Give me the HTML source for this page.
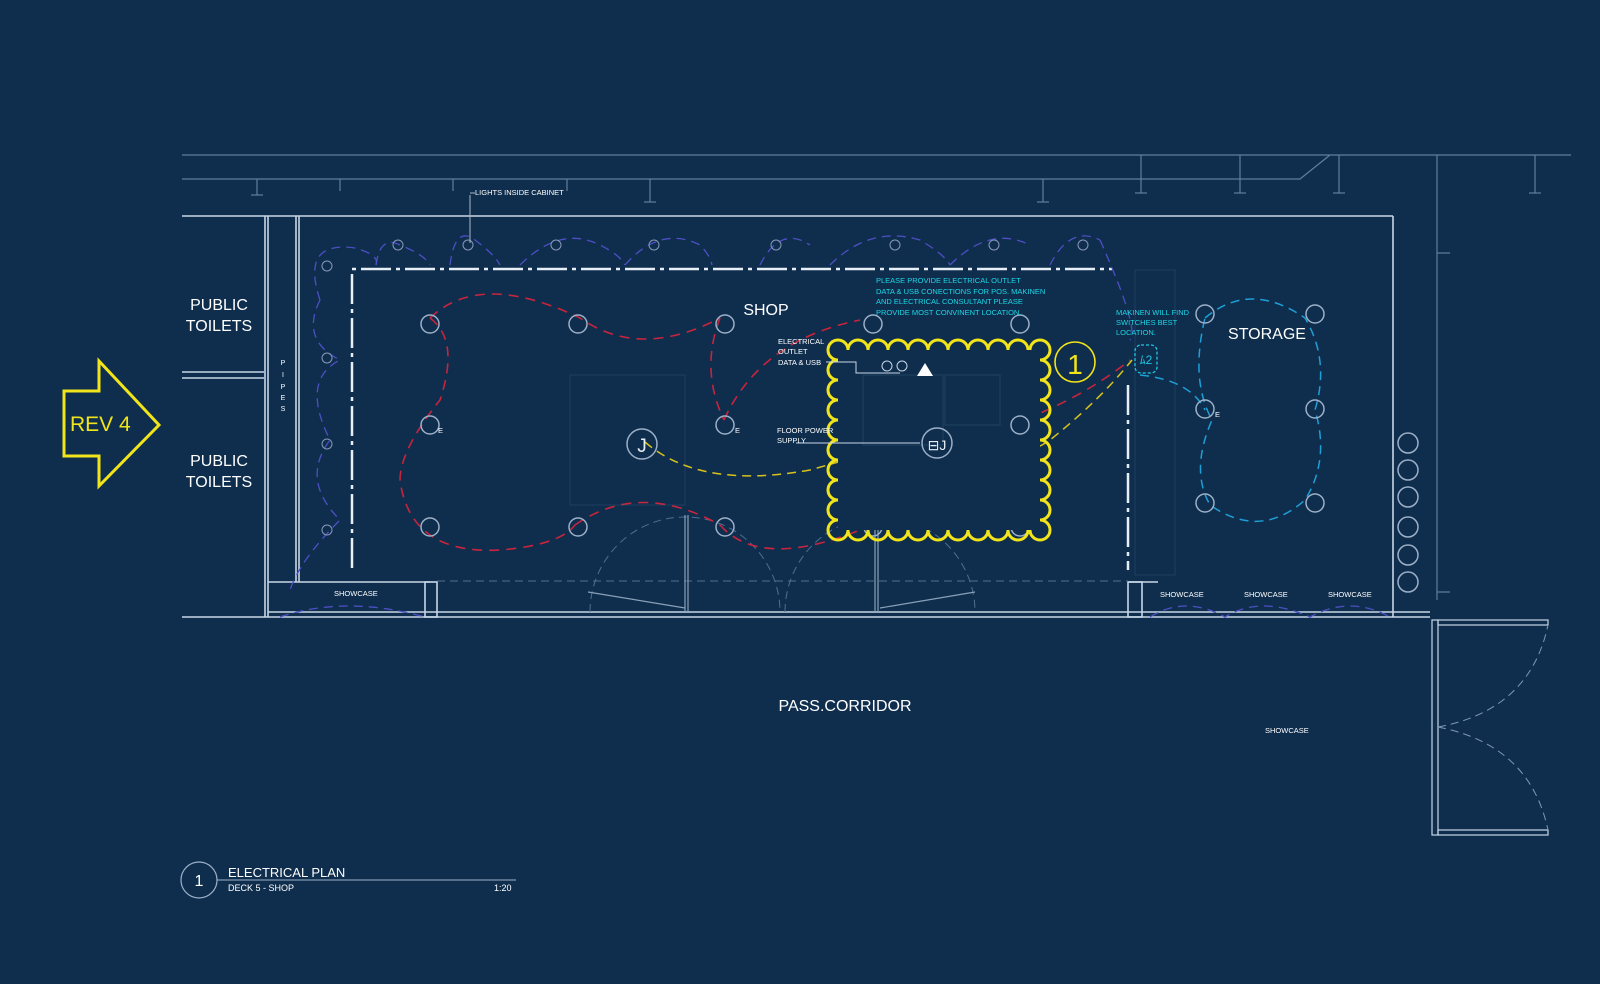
<!DOCTYPE html>
<html><head><meta charset="utf-8"><style>
html,body{margin:0;padding:0;background:#0f2e4d;}
svg{display:block}
text{font-family:"Liberation Sans",Arial,sans-serif;}
</style></head><body>
<svg width="1600" height="984" viewBox="0 0 1600 984" xmlns="http://www.w3.org/2000/svg">
<rect width="1600" height="984" fill="#0f2e4d"/>
<g stroke="#5f7f9f" stroke-width="1.2" fill="none">
<line x1="182" y1="155" x2="1571" y2="155"/>
<polyline points="182,179 1300,179 1330,155"/>
<line x1="1437" y1="155" x2="1437" y2="600"/>
<line x1="1437" y1="253" x2="1450" y2="253"/>
<line x1="1437" y1="592" x2="1450" y2="592"/>
<g>
<line x1="257" y1="179" x2="257" y2="195"/><line x1="251" y1="195" x2="263" y2="195"/>
<line x1="340" y1="179" x2="340" y2="191"/>
<line x1="453" y1="179" x2="453" y2="191"/>
<line x1="567" y1="179" x2="567" y2="191"/>
<line x1="650" y1="179" x2="650" y2="202"/><line x1="644" y1="202" x2="656" y2="202"/>
<line x1="1043" y1="179" x2="1043" y2="202"/><line x1="1037" y1="202" x2="1049" y2="202"/>
<line x1="1141" y1="155" x2="1141" y2="193"/><line x1="1135" y1="193" x2="1147" y2="193"/>
<line x1="1240" y1="155" x2="1240" y2="193"/><line x1="1234" y1="193" x2="1246" y2="193"/>
<line x1="1339" y1="155" x2="1339" y2="193"/><line x1="1333" y1="193" x2="1345" y2="193"/>
<line x1="1535" y1="155" x2="1535" y2="193"/><line x1="1529" y1="193" x2="1541" y2="193"/>
</g>
</g>
<g stroke="#c8d6e6" stroke-width="1.6" fill="none">
<line x1="182" y1="216" x2="1393" y2="216"/>
<line x1="1393" y1="216" x2="1393" y2="617"/>
<line x1="182" y1="617" x2="1430" y2="617"/>
<line x1="265" y1="216" x2="265" y2="617"/>
<line x1="268" y1="216" x2="268" y2="617"/>
<line x1="296" y1="216" x2="296" y2="582"/>
<line x1="299" y1="216" x2="299" y2="582"/>
<line x1="182" y1="372" x2="264" y2="372"/>
<line x1="182" y1="378" x2="264" y2="378"/>
<line x1="268" y1="582" x2="430" y2="582"/>
<line x1="268" y1="612" x2="1430" y2="612"/>
<rect x="425" y="582" width="12" height="35"/>
<rect x="1128" y="582" width="14" height="35"/>
<line x1="1128" y1="582" x2="1158" y2="582"/>
</g>
<g stroke="#4f6f92" stroke-width="1" fill="none" stroke-dasharray="8 5">
<line x1="437" y1="581" x2="1128" y2="581"/>
<path d="M590 612 A95 95 0 0 1 780 612"/>
<path d="M785 612 A95 95 0 0 1 975 612"/>
</g>
<g stroke="#8aa0b8" stroke-width="1.2" fill="none">
<line x1="588" y1="592" x2="685" y2="608"/>
<line x1="880" y1="608" x2="975" y2="592"/>
<line x1="685" y1="515" x2="685" y2="612"/>
<line x1="688" y1="515" x2="688" y2="612"/>
<line x1="875" y1="515" x2="875" y2="612"/>
<line x1="878" y1="515" x2="878" y2="612"/>
</g>
<g stroke="#e8eef5" stroke-width="2.5" fill="none" stroke-dasharray="30 5 4 5">
<polyline points="352,568 352,269 1112,269"/>
<line x1="1128" y1="385" x2="1128" y2="570"/>
</g>
<g stroke="#c8d6e6" stroke-width="1.2" fill="none">
<rect x="1432" y="620" width="6" height="215"/>
<rect x="1438" y="620" width="110" height="5"/>
<rect x="1438" y="830" width="110" height="5"/>
</g>
<g stroke="#7f98b5" stroke-width="1" fill="none" stroke-dasharray="8 5">
<path d="M1438 727 Q1530 710 1548 625"/>
<path d="M1438 727 Q1530 745 1548 830"/>
</g>
<g stroke="#4d4fc4" stroke-width="1.3" fill="none" stroke-dasharray="9 6">
<path d="M320 300 Q300 240 355 248 Q380 255 376 265"/>
<path d="M376 265 Q380 235 400 245 Q425 255 430 265"/>
<path d="M450 265 Q455 225 475 240 Q495 255 500 265"/>
<path d="M520 265 Q560 225 600 245 Q620 255 625 265"/>
<path d="M625 265 Q660 225 700 245 Q710 255 712 265"/>
<path d="M760 265 Q780 225 810 245"/>
<path d="M830 265 Q870 225 920 240 Q945 255 950 265"/>
<path d="M950 265 Q990 225 1030 245"/>
<path d="M1050 265 Q1070 225 1100 240"/>
<path d="M320 300 Q300 340 340 360 Q300 380 330 440 Q300 480 340 520 Q300 560 290 590"/>
<path d="M1100 240 Q1140 330 1130 340"/>
<path d="M280 617 Q345 595 425 617"/>
<path d="M1150 617 Q1185 595 1225 617 Q1260 595 1310 617 Q1350 595 1390 617"/>
</g>
<g stroke="#8898b8" stroke-width="1" fill="none">
<circle cx="327" cy="266" r="5"/><circle cx="398" cy="245" r="5"/><circle cx="468" cy="245" r="5"/>
<circle cx="556" cy="245" r="5"/><circle cx="654" cy="245" r="5"/><circle cx="776" cy="245" r="5"/>
<circle cx="895" cy="245" r="5"/><circle cx="994" cy="245" r="5"/><circle cx="1083" cy="245" r="5"/>
<circle cx="327" cy="358" r="5"/><circle cx="327" cy="444" r="5"/><circle cx="327" cy="530" r="5"/>
</g>
<line x1="470" y1="195" x2="470" y2="243" stroke="#aab8c8" stroke-width="1"/>
<line x1="470" y1="193" x2="475" y2="193" stroke="#aab8c8" stroke-width="1"/>
<g stroke="#c8243e" stroke-width="1.6" fill="none" stroke-dasharray="10 7">
<path d="M430 318 Q480 270 580 318 Q640 360 720 318"/>
<path d="M430 318 Q460 340 440 400 Q400 450 400 480 Q410 555 500 550 Q560 545 575 525"/>
<path d="M575 525 Q640 480 720 525"/>
<path d="M720 318 Q700 370 724 420"/>
<path d="M720 525 Q760 570 860 530 Q900 470 1000 515"/>
<path d="M724 420 Q760 340 860 320"/>
<path d="M1010 425 Q1080 400 1130 360"/>
<path d="M1010 425 Q1060 470 1010 515"/>
</g>
<g stroke="#d8c21a" stroke-width="1.5" fill="none" stroke-dasharray="9 6">
<path d="M645 442 Q700 490 810 470 Q880 450 925 440"/>
<path d="M925 440 Q990 480 1050 440 Q1100 400 1132 360"/>
</g>
<g stroke="#1e9fd6" stroke-width="1.5" fill="none" stroke-dasharray="9 6">
<path d="M1205 318 Q1250 280 1305 318 Q1330 360 1315 410 Q1330 460 1305 500 Q1260 540 1210 505 Q1190 470 1212 420 Q1190 380 1205 318"/>
<path d="M1140 375 Q1190 380 1205 410"/>
</g>
<g stroke="#4f6f92" stroke-width="1" fill="none" opacity="0.25">
<rect x="570" y="375" width="115" height="130"/>
<rect x="1135" y="270" width="40" height="305"/>
</g>
<g stroke="#9cb0c8" stroke-width="1.5" fill="none">
<circle cx="430" cy="324" r="9"/><circle cx="578" cy="324" r="9"/><circle cx="725" cy="324" r="9"/><circle cx="873" cy="324" r="9"/><circle cx="1020" cy="324" r="9"/>
<circle cx="430" cy="425" r="9"/><circle cx="725" cy="425" r="9"/><circle cx="1020" cy="425" r="9"/>
<circle cx="430" cy="527" r="9"/><circle cx="578" cy="527" r="9"/><circle cx="725" cy="527" r="9"/><circle cx="873" cy="527" r="9"/><circle cx="1020" cy="527" r="9"/>
<circle cx="1205" cy="314" r="9"/><circle cx="1315" cy="314" r="9"/>
<circle cx="1205" cy="409" r="9"/><circle cx="1315" cy="409" r="9"/>
<circle cx="1205" cy="503" r="9"/><circle cx="1315" cy="503" r="9"/>
<circle cx="1408" cy="443" r="10"/><circle cx="1408" cy="470" r="10"/><circle cx="1408" cy="497" r="10"/>
<circle cx="1408" cy="527" r="10"/><circle cx="1408" cy="555" r="10"/><circle cx="1408" cy="582" r="10"/>
</g>
<g stroke="#f2e41a" stroke-width="3" fill="none">
<circle cx="838" cy="350" r="10"/><circle cx="858" cy="350" r="10"/><circle cx="878" cy="350" r="10"/><circle cx="898" cy="350" r="10"/><circle cx="918" cy="350" r="10"/><circle cx="938" cy="350" r="10"/><circle cx="958" cy="350" r="10"/><circle cx="978" cy="350" r="10"/><circle cx="998" cy="350" r="10"/><circle cx="1018" cy="350" r="10"/><circle cx="1040" cy="350" r="10"/>
<circle cx="838" cy="530" r="10"/><circle cx="858" cy="530" r="10"/><circle cx="878" cy="530" r="10"/><circle cx="898" cy="530" r="10"/><circle cx="918" cy="530" r="10"/><circle cx="938" cy="530" r="10"/><circle cx="958" cy="530" r="10"/><circle cx="978" cy="530" r="10"/><circle cx="998" cy="530" r="10"/><circle cx="1018" cy="530" r="10"/><circle cx="1040" cy="530" r="10"/>
<circle cx="838" cy="370" r="10"/><circle cx="838" cy="390" r="10"/><circle cx="838" cy="410" r="10"/><circle cx="838" cy="430" r="10"/><circle cx="838" cy="450" r="10"/><circle cx="838" cy="470" r="10"/><circle cx="838" cy="490" r="10"/><circle cx="838" cy="510" r="10"/>
<circle cx="1040" cy="370" r="10"/><circle cx="1040" cy="390" r="10"/><circle cx="1040" cy="410" r="10"/><circle cx="1040" cy="430" r="10"/><circle cx="1040" cy="450" r="10"/><circle cx="1040" cy="470" r="10"/><circle cx="1040" cy="490" r="10"/><circle cx="1040" cy="510" r="10"/>
</g>
<rect x="838" y="350" width="202" height="180" fill="#0f2e4d"/>
<g stroke="#3f5f82" stroke-width="1" fill="none" opacity="0.4">
<rect x="863" y="375" width="80" height="70"/><rect x="945" y="375" width="55" height="50"/>
</g>
<g stroke="#9cb0c8" stroke-width="1.5" fill="none">
<circle cx="1020" cy="425" r="9"/>
</g>
<circle cx="1075" cy="362" r="20" stroke="#f2e41a" stroke-width="1.6" fill="none"/>
<text x="1075" y="374" font-size="28" fill="#f2e41a" text-anchor="middle">1</text>
<circle cx="642" cy="444" r="15" stroke="#9cb0c8" stroke-width="1.5" fill="none"/>
<text x="642" y="452" font-size="19" fill="#e8eef5" text-anchor="middle">J</text>
<circle cx="937" cy="443" r="15" stroke="#9cb0c8" stroke-width="1.5" fill="none"/>
<text x="937" y="450" font-size="14" fill="#e8eef5" text-anchor="middle">⊟J</text>
<g stroke="#c8d6e6" stroke-width="1" fill="none">
<polyline points="826,362 856,362 856,373 900,373"/>
<circle cx="887" cy="366" r="5"/><circle cx="902" cy="366" r="5"/>
<line x1="796" y1="443" x2="920" y2="443"/>
</g>
<polygon points="917,376 933,376 925,363" fill="#ffffff"/>
<rect x="1135" y="345" width="22" height="28" rx="6" stroke="#1ec8e6" stroke-width="1.3" fill="none" stroke-dasharray="3 2"/>
<text x="1146" y="364" font-size="12" fill="#1ec8e6" text-anchor="middle">ﾑ2</text>
<polygon points="64,391 99,391 99,361 159,425 99,486 99,456 64,456" fill="none" stroke="#f2e41a" stroke-width="3"/>
<text x="70" y="431" font-size="21" fill="#f2e41a">REV 4</text>
<g fill="#ffffff">
<text x="219" y="310" font-size="16" text-anchor="middle">PUBLIC</text>
<text x="219" y="331" font-size="16" text-anchor="middle">TOILETS</text>
<text x="219" y="466" font-size="16" text-anchor="middle">PUBLIC</text>
<text x="219" y="487" font-size="16" text-anchor="middle">TOILETS</text>
<text x="766" y="315" font-size="16" text-anchor="middle">SHOP</text>
<text x="1267" y="339" font-size="16" text-anchor="middle">STORAGE</text>
<text x="845" y="711" font-size="16" text-anchor="middle">PASS.CORRIDOR</text>
<g font-size="7.5">
<text x="475" y="195">LIGHTS INSIDE CABINET</text>
<text x="334" y="596">SHOWCASE</text>
<text x="1160" y="597">SHOWCASE</text>
<text x="1244" y="597">SHOWCASE</text>
<text x="1328" y="597">SHOWCASE</text>
<text x="1265" y="733">SHOWCASE</text>
<text x="778" y="344">ELECTRICAL</text>
<text x="778" y="354">OUTLET</text>
<text x="778" y="365">DATA &amp; USB</text>
<text x="777" y="433">FLOOR POWER</text>
<text x="777" y="443">SUPPLY</text>
<text x="438" y="433">E</text><text x="735" y="433">E</text><text x="1215" y="417">E</text>
</g>
<g font-size="7" text-anchor="middle">
<text x="283" y="365">P</text><text x="283" y="377">I</text><text x="283" y="389">P</text><text x="283" y="400">E</text><text x="283" y="411">S</text>
</g>
</g>
<g fill="#1ed6e6" font-size="7.5">
<text x="876" y="283">PLEASE PROVIDE ELECTRICAL  OUTLET</text>
<text x="876" y="294">DATA &amp; USB CONECTIONS FOR POS. MAKINEN</text>
<text x="876" y="304">AND ELECTRICAL CONSULTANT PLEASE</text>
<text x="876" y="315">PROVIDE MOST CONVINENT LOCATION.</text>
<text x="1116" y="315">MAKINEN WILL FIND</text>
<text x="1116" y="325">SWITCHES BEST</text>
<text x="1116" y="335">LOCATION.</text>
</g>
<circle cx="199" cy="880" r="18" stroke="#9cb0c8" stroke-width="1.2" fill="none"/>
<text x="199" y="886" font-size="16" fill="#ffffff" text-anchor="middle">1</text>
<line x1="217" y1="880" x2="516" y2="880" stroke="#9cb0c8" stroke-width="1"/>
<text x="228" y="877" font-size="13" fill="#ffffff">ELECTRICAL PLAN</text>
<text x="228" y="891" font-size="9" fill="#ffffff">DECK 5 - SHOP</text>
<text x="494" y="891" font-size="9" fill="#ffffff">1:20</text>
</svg>
</body></html>
